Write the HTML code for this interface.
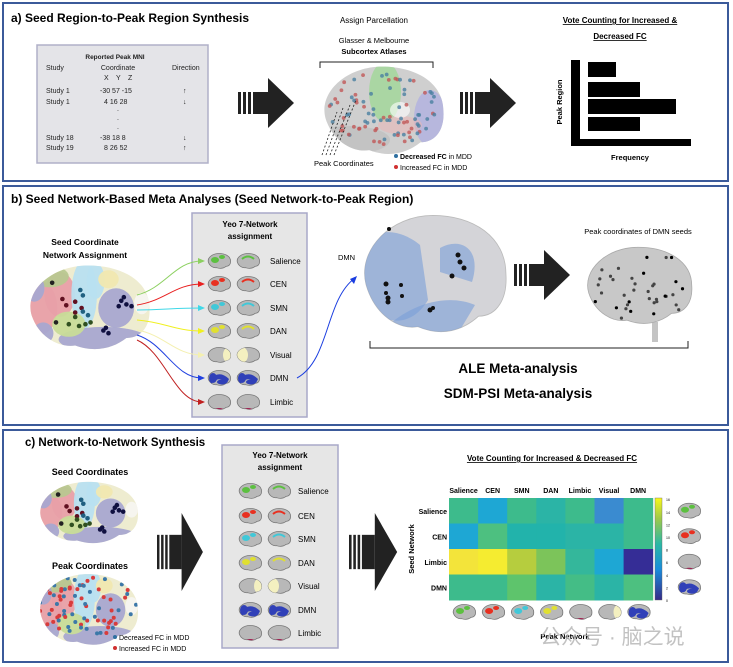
<!DOCTYPE html>
<html><head><meta charset="utf-8"><style>
html,body{margin:0;padding:0;background:#fff}
svg{display:block}
text{font-family:"Liberation Sans","Noto Sans CJK SC",sans-serif}
.b{font-weight:bold}
</style></head><body>
<svg id="s" width="733" height="667" viewBox="0 0 733 667" xmlns="http://www.w3.org/2000/svg">
<defs id="defs">
<g id="arrowS">
<rect x="0" y="14" width="3" height="22" fill="#222"/><rect x="5" y="14" width="3" height="22" fill="#222"/><rect x="10" y="14" width="3" height="22" fill="#222"/><rect x="15" y="14" width="15" height="22" fill="#222"/><polygon points="30,0 56,25 30,50" fill="#222"/>
</g>
</defs>

<rect x="3" y="3" width="725" height="178" fill="none" stroke="#3b5a9a" stroke-width="2"/>
<rect x="3" y="186" width="725" height="239" fill="none" stroke="#3b5a9a" stroke-width="2"/>
<rect x="3" y="430" width="725" height="232" fill="none" stroke="#3b5a9a" stroke-width="2"/>

<!-- PANEL A -->
<text x="11" y="22" font-size="12" class="b">a) Seed Region-to-Peak Region Synthesis</text>
<rect x="37" y="45" width="171" height="118" fill="#e4e4e8" stroke="#b0b0c8" stroke-width="1.5"/>
<g font-size="7" fill="#222">
<text x="115" y="59" text-anchor="middle" class="b" font-size="6.5">Reported Peak MNI</text>
<text x="46" y="70">Study</text><text x="118" y="70" text-anchor="middle">Coordinate</text><text x="172" y="70">Direction</text>
<text x="104" y="80">X</text><text x="116" y="80">Y</text><text x="128" y="80">Z</text>
<text x="46" y="93">Study 1</text><text x="100" y="93">-30 57 -15</text><text x="183" y="93">↑</text>
<text x="46" y="104">Study 1</text><text x="104" y="104">4 16  28</text><text x="183" y="104">↓</text>
<text x="117" y="111">.</text><text x="117" y="120">.</text><text x="117" y="129">.</text>
<text x="46" y="140">Study 18</text><text x="100" y="140">-38 18  8</text><text x="183" y="140">↓</text>
<text x="46" y="150">Study 19</text><text x="104" y="150">8 26 52</text><text x="183" y="150">↑</text>
</g>
<use href="#arrowS" x="238" y="78"/>
<text x="374" y="23" font-size="8" text-anchor="middle">Assign Parcellation</text>
<text x="374" y="43" font-size="7.5" text-anchor="middle">Glasser &amp; Melbourne</text>
<text x="374" y="54" font-size="7.5" text-anchor="middle" class="b">Subcortex Atlases</text>
<path d="M320,68 V62 H433 V68" fill="none" stroke="#222" stroke-width="1"/>
<g id="brainA"></g>
<g stroke="#222" stroke-dasharray="2,2" stroke-width=".8">
<line x1="322" y1="155" x2="337" y2="112"/><line x1="326" y1="155" x2="343" y2="108"/><line x1="330" y1="155" x2="350" y2="105"/><line x1="334" y1="155" x2="356" y2="100"/></g>
<text x="314" y="166" font-size="7.5">Peak Coordinates</text>
<circle cx="396" cy="156" r="2" fill="#2f6fa0"/><text x="400" y="159" font-size="7" class="b">Decreased FC <tspan font-weight="normal">in MDD</tspan></text>
<circle cx="396" cy="167" r="2" fill="#d03030"/><text x="400" y="170" font-size="7">Increased FC in MDD</text>
<use href="#arrowS" x="460" y="78"/>
<text x="620" y="23" font-size="8" text-anchor="middle" class="b" text-decoration="underline">Vote Counting for Increased &amp;</text>
<text x="620" y="39" font-size="8" text-anchor="middle" class="b" text-decoration="underline">Decreased FC</text>
<rect x="571" y="60" width="9" height="86" fill="#000"/><rect x="571" y="139" width="120" height="7" fill="#000"/>
<rect x="588" y="62" width="28" height="15" fill="#000"/><rect x="588" y="82" width="52" height="15" fill="#000"/>
<rect x="588" y="99" width="88" height="15" fill="#000"/><rect x="588" y="117" width="52" height="14" fill="#000"/>
<text transform="translate(562,102) rotate(-90)" font-size="7.5" class="b" text-anchor="middle">Peak Region</text>
<text x="630" y="160" font-size="7.5" class="b" text-anchor="middle">Frequency</text>

<!-- PANEL B -->
<text x="11" y="203" font-size="12" class="b">b) Seed Network-Based Meta Analyses (Seed Network-to-Peak Region)</text>
<text x="85" y="245" font-size="8.5" class="b" text-anchor="middle">Seed Coordinate</text>
<text x="85" y="258" font-size="8.5" class="b" text-anchor="middle">Network Assignment</text>
<g id="seedB"></g>
<rect x="192" y="213" width="115" height="204" fill="#e6e6e6" stroke="#a8a8c8" stroke-width="1.5"/>
<text x="250" y="227" font-size="8" class="b" text-anchor="middle">Yeo 7-Network</text>
<text x="250" y="239" font-size="8" class="b" text-anchor="middle">assignment</text>
<g id="yeoB"></g>
<g id="arrB" fill="none" stroke-width="1"></g>
<path d="M297,378 C330,360 325,300 355,278" fill="none" stroke="#1a3de0" stroke-width="1"/>
<polygon points="357,276 350,279 354,284" fill="#1a3de0"/>
<text x="338" y="260" font-size="7.5">DMN</text>
<g id="dmnB"></g>
<use href="#arrowS" x="514" y="250"/>
<text x="638" y="234" font-size="7.5" text-anchor="middle">Peak coordinates of DMN seeds</text>
<rect x="652" y="322" width="6" height="20" fill="#c4c4c4"/>
<g id="grayB"></g>
<path d="M370,341 V348 H688 V341" fill="none" stroke="#222" stroke-width="1"/>
<text x="518" y="373" font-size="13.5" class="b" text-anchor="middle">ALE Meta-analysis</text>
<text x="518" y="398" font-size="13.5" class="b" text-anchor="middle">SDM-PSI Meta-analysis</text>

<!-- PANEL C -->
<text x="25" y="446" font-size="11.5" class="b">c) Network-to-Network Synthesis</text>
<text x="90" y="475" font-size="9" class="b" text-anchor="middle">Seed Coordinates</text>
<g id="seedC"></g>
<text x="90" y="569" font-size="9" class="b" text-anchor="middle">Peak Coordinates</text>
<g id="peakC"></g>
<circle cx="115" cy="637" r="2" fill="#2f6fa0"/><text x="119" y="640" font-size="7">Decreased FC in MDD</text>
<circle cx="115" cy="648" r="2" fill="#d03030"/><text x="119" y="651" font-size="7">Increased FC in MDD</text>
<g transform="translate(157,513) scale(0.82,1.56)"><use href="#arrowS"/></g>
<rect x="222" y="445" width="116" height="203" fill="#e6e6e6" stroke="#a8a8c8" stroke-width="1.5"/>
<text x="280" y="458" font-size="8" class="b" text-anchor="middle">Yeo 7-Network</text>
<text x="280" y="470" font-size="8" class="b" text-anchor="middle">assignment</text>
<g id="yeoC"></g>
<g transform="translate(349,513) scale(0.86,1.56)"><use href="#arrowS"/></g>
<text x="552" y="461" font-size="8" class="b" text-anchor="middle" text-decoration="underline">Vote Counting for Increased &amp; Decreased FC</text>
<g id="heat"></g>
<text transform="translate(414,549) rotate(-90)" font-size="7.5" class="b" text-anchor="middle">Seed Network</text>
<text x="565" y="639" font-size="7.5" class="b" text-anchor="middle">Peak Network</text>
<text x="540" y="644" font-size="21" fill="#b8b8b8" opacity=".85">公众号 · 脑之说</text>
</svg>
<script>
var NS="http://www.w3.org/2000/svg",S=document.getElementById('s'),D=document.getElementById('defs');
function el(p,t,a){var e=document.createElementNS(NS,t);for(var k in a)e.setAttribute(k,a[k]);p.appendChild(e);return e;}
var seed=7;function r(){seed=(seed*9301+49297)%233280;return seed/233280;}
var BP="M6,42 C0,22 22,2 50,2 C76,2 98,14 98,36 C99,50 92,60 80,60 C70,68 56,72 40,66 C28,68 12,60 6,42 Z";
var cid=0;
function brain(g,x,y,w,h,fill,stroke){var tr='translate('+x+','+y+') scale('+(w/100)+','+(h/72)+')';
 var id='c'+(cid++);var cp=el(D,'clipPath',{id:id});el(cp,'path',{d:BP,transform:tr});
 el(g,'path',{d:BP,transform:tr,fill:fill,stroke:stroke||'none','stroke-width':stroke?100/w*0.8:0});
 return el(g,'g',{'clip-path':'url(#'+id+')'});}
var ga=document.getElementById('brainA');
var ca=brain(ga,318,64,128,94,'#cfcfcf');
el(ca,'ellipse',{cx:385,cy:92,rx:16,ry:30,fill:'#9ed894',opacity:.75});
el(ca,'ellipse',{cx:430,cy:118,rx:16,ry:28,fill:'#b0b0e0',opacity:.8});
el(ca,'ellipse',{cx:400,cy:125,rx:22,ry:9,fill:'#e8b8b8',opacity:.6});
el(ca,'ellipse',{cx:400,cy:110,rx:10,ry:8,fill:'#fff',opacity:.6});
el(ca,'ellipse',{cx:350,cy:140,rx:40,ry:14,fill:'#b8b8b8',opacity:.5});
seed=5;
for(var i=0;i<110;i++){var x=328+r()*112,y=72+r()*78;
 var dx=(x-382)/56,dy=(y-110)/38;if(dx*dx+dy*dy>1)continue;
 el(ca,'circle',{cx:x,cy:y,r:1.9,fill:r()<.5?'#4a80a0':'#c05858',opacity:.8});}
var nets=[['Salience','#5cc040'],['CEN','#e83020'],['SMN','#40c8d8'],['DAN','#e0e030'],['Visual','#f4f0c0'],['DMN','#3040b8'],['Limbic','#a02050']];
function icon(g,x,y,c,kind,med){var cg=brain(g,x,y-8,24,16,'#b8b8b8','#777');
 if(kind=='DMN'){el(cg,'path',{d:'M'+(x+2)+','+(y+2)+' Q'+(x+12)+','+(y-9)+' '+(x+22)+','+(y+1)+' L'+(x+20)+','+(y+5)+' Q'+(x+12)+','+(y-3)+' '+(x+4)+','+(y+6)+'Z',fill:c});el(cg,'ellipse',{cx:x+6,cy:y,rx:4,ry:5,fill:c});el(cg,'ellipse',{cx:x+15,cy:y+4,rx:5,ry:2.5,fill:c});}
 else if(kind=='Limbic'){el(cg,'ellipse',{cx:x+12,cy:y+8,rx:5,ry:2,fill:c});}
 else if(kind=='Visual'){el(cg,'ellipse',{cx:x+(med?6:22),cy:y,rx:6,ry:8,fill:c});}
 else{ if(med)el(cg,'path',{d:'M'+(x+6)+','+(y-2)+' Q'+(x+12)+','+(y-7)+' '+(x+18)+','+(y-2),stroke:c,'stroke-width':2,fill:'none'});
  else{el(cg,'ellipse',{cx:x+8,cy:y-1,rx:4,ry:3,fill:c});el(cg,'ellipse',{cx:x+15,cy:y-4,rx:3,ry:2,fill:c});}}}
function yeo(id,x0,ys,lx){var g=document.getElementById(id);
 nets.forEach(function(n,i){var y=ys[i];
  icon(g,x0,y,n[1],n[0],false);icon(g,x0+29,y,n[1],n[0],true);
  var t=el(g,'text',{x:lx,y:y+3,'font-size':8});t.textContent=n[0];});}
yeo('yeoB',207,[261,284,308,331,355,378,402],270);
yeo('yeoC',238,[491,516,539,563,586,610,633],298);
function parc(id,x,y,w,h,dots){var g=document.getElementById(id);
 var cg=brain(g,x,y,w,h,'#eeecd0');
 var P=[[.12,.5,.14,.3,'#e8a0a8'],[.28,.35,.12,.25,'#e8a0a8'],[.2,.15,.15,.12,'#b8c890'],[.08,.28,.08,.15,'#a8a8d0'],[.47,.35,.1,.38,'#b8e0f0'],[.56,.2,.07,.2,'#b8e0f0'],[.72,.5,.14,.22,'#a8a8d0'],[.62,.85,.35,.14,'#a8a8d0'],[.35,.68,.13,.14,'#c8dc98'],[.15,.78,.08,.12,'#a8a8d0'],[.92,.45,.06,.12,'#f6f6f0'],[.66,.18,.08,.1,'#f0e8b0']];
 P.forEach(function(p){el(cg,'ellipse',{cx:x+p[0]*w,cy:y+p[1]*h,rx:p[2]*w,ry:p[3]*h,fill:p[4],opacity:.95});});
 dots.forEach(function(d){el(cg,'circle',{cx:x+d[0]*w,cy:y+d[1]*h,r:d[3]||2.3,fill:d[2]});});}
var sd=[[.22,.22,'#222'],[.3,.4,'#601020'],[.4,.43,'#601020'],[.33,.47,'#601020'],[.45,.5,'#601020'],[.4,.55,'#601020'],[.44,.3,'#206080'],[.46,.36,'#206080'],[.46,.54,'#206080'],[.5,.58,'#206080'],[.4,.6,'#305020'],[.35,.68,'#305020'],[.43,.7,'#305020'],[.48,.68,'#305020'],[.52,.66,'#305020'],[.25,.66,'#222'],[.76,.42,'#101040'],[.8,.46,'#101040'],[.74,.48,'#101040'],[.84,.48,'#101040'],[.78,.38,'#101040'],[.62,.75,'#101040'],[.66,.78,'#101040'],[.64,.72,'#101040']];
parc('seedB',24,263,128,90,sd);
parc('seedC',35,480,105,66,sd);
seed=3;var pd=[];for(var i=0;i<130;i++){var a=r(),b=r();var dx=(a-.5)/.48,dy=(b-.45)/.42;if(dx*dx+dy*dy>1)continue;pd.push([a,b,r()<.5?'#3c78a8':'#d83c3c',2]);}
parc('peakC',35,572,105,76,pd);
var gd=document.getElementById('dmnB');
var cd=brain(gd,357,212,152,125,'#d4d4d8','#bbb');
el(cd,'path',{d:'M360,250 C375,222 405,232 420,245 L428,300 C410,330 380,325 362,300 Z',fill:'#7a9fd8',opacity:.6});
el(cd,'path',{d:'M440,248 C462,236 482,250 472,282 L440,272 Z',fill:'#7a9fd8',opacity:.6});
el(cd,'path',{d:'M392,322 C420,300 452,295 475,305 L460,330 C430,336 410,338 392,322 Z',fill:'#7a9fd8',opacity:.6});
[[389,229,2],[458,255,2.5],[460,262,2.5],[464,268,2.5],[452,276,2.5],[386,284,2.5],[401,285,2],[386,293,2],[402,296,2],[388,302,2.5],[388,298,2.5],[430,310,2.5],[433,308,2]].forEach(function(d){el(gd,'circle',{cx:d[0],cy:d[1],r:d[2],fill:'#111'});});
var gg=document.getElementById('grayB');var cg2=brain(gg,582,245,112,82,'#c8c8c8','#aaa');
seed=11;for(var i=0;i<40;i++){var x=592+r()*95,y=255+r()*65;el(cg2,'circle',{cx:x,cy:y,r:1.6,fill:r()<.3?'#000':'#444'});}
var ab=document.getElementById('arrB');
var cols=['#8cd060','#e82020','#40d8e8','#f0f020','#f4f0b0','#2040e0','#c02020'],ys=[261,284,308,331,355,378,402],sy=[295,305,310,320,330,335,340];
ys.forEach(function(y,i){var x1=137,y1=sy[i];
 el(ab,'path',{d:'M'+x1+','+y1+' C165,'+(y1+(y-y1)*.2)+' 175,'+y+' 202,'+y,stroke:cols[i]});
 el(ab,'polygon',{points:'205,'+y+' 198,'+(y-3)+' 198,'+(y+3),fill:cols[i],stroke:'none'});});
var H=document.getElementById('heat');
var C=[['#3dbb8c','#1ea7d4','#3dbb8c','#2bb4a6','#3dbb8c','#3a8bd0','#3dbb8c'],
['#1ea7d4','#4dc080','#22b3ab','#22b3ab','#2bb4a6','#2bb4a6','#3dbb8c'],
['#f3e43a','#f5ec30','#b6cd3e','#7cc45a','#34b79b','#1ea7d4','#352d96'],
['#3dbb8c','#3dbb8c','#5ec46c','#2bb4a6','#44bd86','#2bb4a6','#4dc080']];
var cw=29.1,ch=25.5,hx=449,hy=498;
C.forEach(function(row,i){row.forEach(function(c,j){el(H,'rect',{x:hx+j*cw,y:hy+i*ch,width:cw+.5,height:ch+.5,fill:c});});});
['Salience','CEN','SMN','DAN','Limbic','Visual','DMN'].forEach(function(n,j){var t=el(H,'text',{x:hx+j*cw+cw/2,y:493,'font-size':7,'font-weight':'bold','text-anchor':'middle'});t.textContent=n;});
['Salience','CEN','Limbic','DMN'].forEach(function(n,i){var t=el(H,'text',{x:447,y:hy+i*ch+ch/2+3,'font-size':7,'font-weight':'bold','text-anchor':'end'});t.textContent=n;});
var gr=el(D,'linearGradient',{id:'cb',x1:0,y1:1,x2:0,y2:0});
[['0','#352a87'],['.3','#1a8cdc'],['.55','#2bb8a4'],['.8','#9fc94a'],['1','#f9f71a']].forEach(function(s){el(gr,'stop',{offset:s[0],'stop-color':s[1]});});
el(H,'rect',{x:655,y:498,width:7,height:102,fill:'url(#cb)',stroke:'#666','stroke-width':.4});
[0,2,4,6,8,10,12,14,16].forEach(function(v){var t=el(H,'text',{x:666,y:600-v*6.3+2,'font-size':3.5});t.textContent=v;});
[['#5cc040','Salience'],['#e83020','CEN'],['#a02050','Limbic'],['#3040b8','DMN']].forEach(function(n,i){icon(H,677,hy+i*ch+ch/2,n[0],n[1],false);});
[['#5cc040','Salience'],['#e83020','CEN'],['#40c8d8','SMN'],['#e0e030','DAN'],['#a02050','Limbic'],['#f4f0c0','Visual'],['#3040b8','DMN']].forEach(function(n,j){icon(H,hx+j*cw+3,612,n[0],n[1],false);});
</script>
</body></html>
